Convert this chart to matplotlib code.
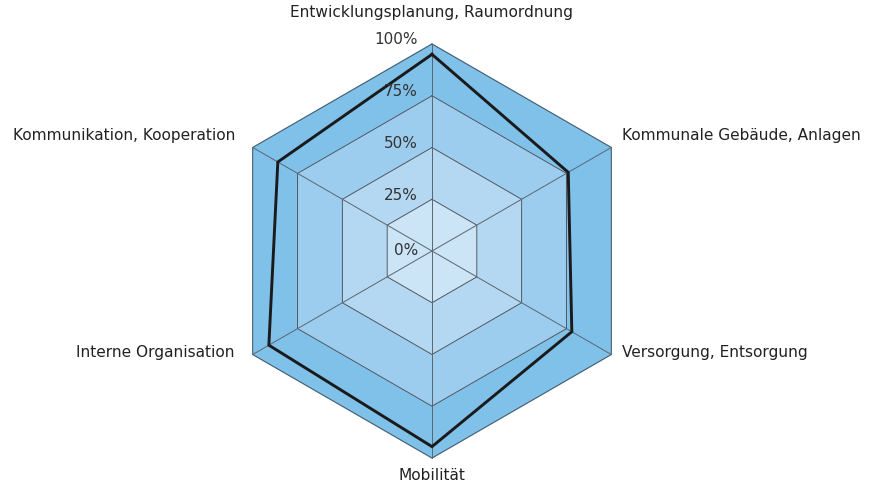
import numpy as np
import matplotlib.pyplot as plt

plt.rcParams['font.family'] = ['DejaVu Sans']

# axes clockwise from the top
categories = ["Entwicklungsplanung, Raumordnung", "Kommunale Gebäude, Anlagen",
              "Versorgung, Entsorgung", "Mobilität",
              "Interne Organisation", "Kommunikation, Kooperation"]
values = [0.95, 0.76, 0.78, 0.945, 0.91, 0.86]
levels = [0.25, 0.50, 0.75, 1.00]
level_labels = ["0%", "25%", "50%", "75%", "100%"]
band_colors = ["#cbe4f6", "#b4d8f2", "#9dcdee", "#80c1ea"]

n = len(categories)
angles = np.pi / 2 - np.arange(n) * 2 * np.pi / n


def hexagon(r):
    r = np.broadcast_to(r, (n,))
    x = r * np.cos(angles)
    y = r * np.sin(angles)
    return np.append(x, x[0]), np.append(y, y[0])


W, H = 869, 488
cx, cy, R = 432, 251, 207
fig = plt.figure(figsize=(W / 100, H / 100), dpi=100)
ax = fig.add_axes([0, 0, 1, 1])
ax.set_xlim(-cx / R, (W - cx) / R)
ax.set_ylim(-(H - cy) / R, cy / R)
ax.axis('off')

# bands, outer first
for lev, col in zip(levels[::-1], band_colors[::-1]):
    x, y = hexagon(lev)
    ax.fill(x, y, color=col, zorder=1)
for lev in levels:
    x, y = hexagon(lev)
    ax.plot(x, y, color='#4a5560', lw=0.7, zorder=2)
for a in angles:
    ax.plot([0, np.cos(a)], [0, np.sin(a)], color='#5a6670', lw=0.7, zorder=2)

# data
x, y = hexagon(np.array(values))
ax.plot(x, y, color='#1a1a1a', lw=2.1, zorder=3, solid_joinstyle='miter')

# level labels
for i, lab in enumerate(level_labels):
    r = i * 0.25
    off = 0.02 if r > 0 else 0.0
    ax.text(-14 / R, r + off, lab, ha='right', va='center', fontsize=11,
            color='#333333', zorder=4)

# category labels (pixel positions relative to centre)
lab_pos = [(0, 238, 'center'), (190, 115, 'left'), (190, -102, 'left'),
           (0, -225, 'center'), (-197, -102, 'right'), (-197, 115, 'right')]
for cat, (dx, dy, ha) in zip(categories, lab_pos):
    ax.text(dx / R, dy / R, cat, ha=ha, va='center', fontsize=11.1, color='#222222')

fig.savefig('out.png', dpi=100)
